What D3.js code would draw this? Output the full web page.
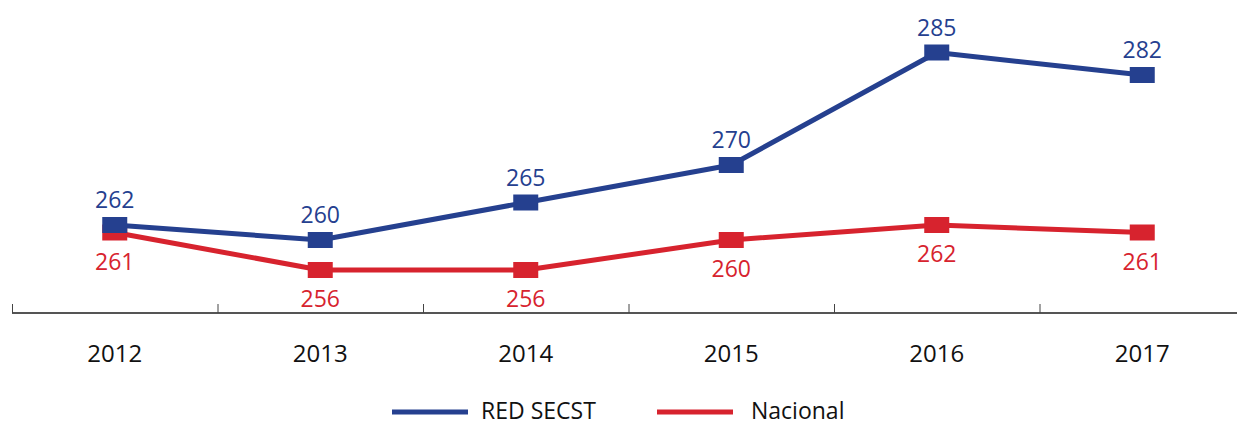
<!DOCTYPE html>
<html>
<head>
<meta charset="utf-8">
<script src="https://cdn.jsdelivr.net/npm/d3@7"></script>
<style>
  body { margin: 0; background: #fff; }
  text { font-family: "Open Sans", "Noto Sans", sans-serif; }
</style>
</head>
<body>
<div id="wrapper"></div>
<script>
const years = ["2012", "2013", "2014", "2015", "2016", "2017"];
const redSecst = [262, 260, 265, 270, 285, 282];
const nacional = [261, 256, 256, 260, 262, 261];
const seriesNames = ["RED SECST", "Nacional"];
const seriesColors = ["#25408f", "#d7232e"];

const dimentions = {
    width: 1237,
    height: 426
}

const wrapper = d3.select("#wrapper")
    .append("svg")
    .attr("width", dimentions.width)
    .attr("height", dimentions.height)

const xScale = d3.scaleBand()
    .domain(years)
    .range([12, 1245])

const yScale = d3.scaleLinear()
    .domain([250, 290])
    .range([315, 15])

const axisY = 313

// axis line + ticks at the band edges
wrapper.append("line")
    .attr("x1", xScale.range()[0])
    .attr("x2", xScale.range()[1])
    .attr("y1", axisY)
    .attr("y2", axisY)
    .attr("stroke", "#555")
    .attr("stroke-width", 2)

wrapper.selectAll(".tick")
    .data(years)
    .enter()
    .append("line")
    .attr("x1", d => xScale(d) + 0.5)
    .attr("x2", d => xScale(d) + 0.5)
    .attr("y1", axisY - 9)
    .attr("y2", axisY)
    .attr("stroke", "#444")
    .attr("stroke-width", 1)

wrapper.selectAll(".year")
    .data(years)
    .enter()
    .append("text")
    .attr("x", d => xScale(d) + xScale.bandwidth() / 2)
    .attr("y", 362)
    .attr("text-anchor", "middle")
    .attr("font-size", 24)
    .attr("fill", "#111")
    .text(d => d)

const cx = d => xScale(d) + xScale.bandwidth() / 2
const line = d3.line()
    .x((d, i) => cx(years[i]))
    .y(d => yScale(d))

// draw red first so blue sits on top
const series = [
    { values: nacional, color: seriesColors[1], above: false },
    { values: redSecst, color: seriesColors[0], above: true }
]

series.forEach(s => {
    const g = wrapper.append("g")
    g.append("path")
        .datum(s.values)
        .attr("d", line)
        .attr("fill", "none")
        .attr("stroke", s.color)
        .attr("stroke-width", 5)
        .attr("stroke-linejoin", "round")

    g.selectAll("rect")
        .data(s.values)
        .enter()
        .append("rect")
        .attr("x", (d, i) => cx(years[i]) - 12.5)
        .attr("y", d => yScale(d) - 8)
        .attr("width", 25)
        .attr("height", 16)
        .attr("fill", s.color)

    g.selectAll("text")
        .data(s.values)
        .enter()
        .append("text")
        .attr("x", (d, i) => cx(years[i]))
        .attr("y", d => s.above ? yScale(d) - 17 : yScale(d) + 37)
        .attr("text-anchor", "middle")
        .attr("font-size", 23)
        .attr("fill", s.color)
        .text(d => d)
})

// legend
const legendX = [392, 657]
const legend = wrapper.selectAll(".legend")
    .data(seriesNames)
    .enter()
    .append("g")
    .attr("transform", (d, i) => `translate(${legendX[i]}, 412)`)

legend.append("line")
    .attr("x1", 0)
    .attr("x2", 76)
    .attr("stroke", (d, i) => seriesColors[i])
    .attr("stroke-width", 5)

legend.append("text")
    .attr("x", (d, i) => i == 0 ? 89 : 94)
    .attr("y", 7)
    .attr("font-size", 23)
    .attr("fill", "#111")
    .text(d => d)
</script>
</body>
</html>
